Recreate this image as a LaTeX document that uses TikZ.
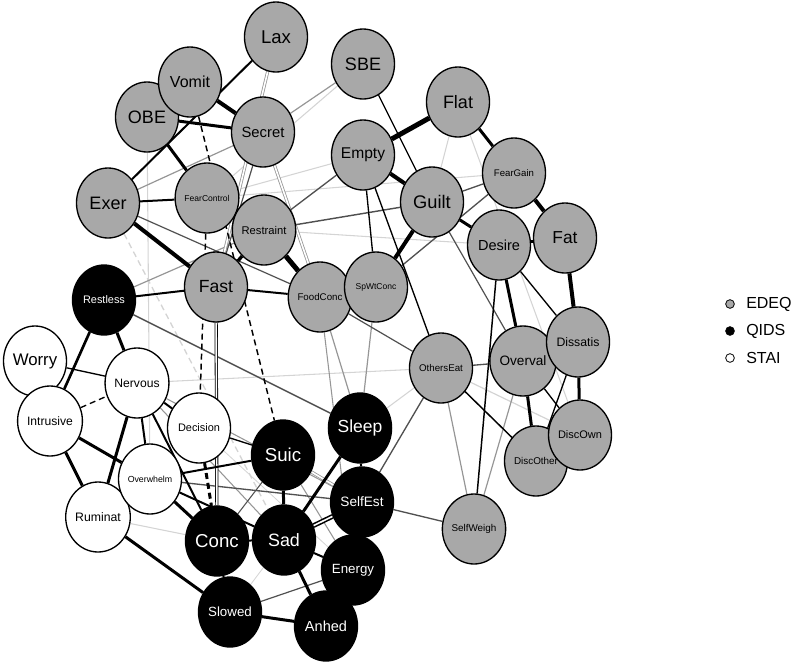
\documentclass[tikz,border=0pt]{standalone}
\usepackage{fontspec}
\setmainfont{Liberation Sans}
\usetikzlibrary{shapes.geometric}
\definecolor{edeqfill}{RGB}{168,168,168}
\definecolor{dkline}{RGB}{80,80,80}
\definecolor{mdline}{RGB}{150,150,150}
\definecolor{ltline}{RGB}{212,212,212}
\pgfdeclarelayer{edges}
\pgfsetlayers{edges,main}
\tikzset{
  nd/.style={ellipse, draw=black, line width=1pt, minimum width=47.25pt, minimum height=52.5pt, inner sep=0pt},
  edeq/.style={nd, fill=edeqfill, font=\fontsize{#1}{#1}\selectfont},
  qids/.style={nd, fill=black, text=white, font=\fontsize{#1}{#1}\selectfont},
  stai/.style={nd, fill=white, font=\fontsize{#1}{#1}\selectfont},
  bk/.style={draw=black, line width=#1pt},
  dk/.style={draw=dkline, line width=#1pt},
  md/.style={draw=mdline, line width=#1pt},
  lt/.style={draw=ltline, line width=#1pt},
  neg/.style={dash pattern=on 4.5pt off 3pt},
  dbl/.style={draw=#1, double=white, double distance=1.2pt, line width=0.6pt},
  legdot/.style={circle, draw=black, line width=0.6pt, minimum size=6.5pt, inner sep=0pt},
  legtxt/.style={anchor=west, inner sep=0pt, font=\fontsize{12}{12}\selectfont}
}

\begin{document}
\begin{tikzpicture}[x=0.75pt, y=-0.75pt]
		%%%%% START %%%%%
		\useasboundingbox (0,0) rectangle (800,664);
		
		% EDEQ items
		\node[edeq=13.9] (Lax) at (276,37) {Lax};
		\node[edeq=13.5] (OBE) at (147,117) {OBE};
		\node[edeq=12] (Vomit) at (190,82) {Vomit};
		\node[edeq=11.1] (Secret) at (263,132) {Secret};
		\node[edeq=13.5] (SBE) at (363,64) {SBE};
		\node[edeq=13.5] (Flat) at (458,102) {Flat};
		\node[edeq=11.7] (Empty) at (363,155) {Empty};
		\node[edeq=7.2] (FearGain) at (514,173) {FearGain};
		\node[edeq=13.7] (Guilt) at (432,202) {Guilt};
		\node[edeq=13.5] (Exer) at (108,203) {Exer};
		\node[edeq=6.4] (FearControl) at (207,198) {FearControl};
		\node[edeq=8.4] (Restraint) at (264,230) {Restraint};
		\node[edeq=10.9] (Desire) at (499,245) {Desire};
		\node[edeq=13] (Fat) at (565,238) {Fat};
		\node[edeq=13.2] (Fast) at (216,287) {Fast};
		\node[edeq=7.3] (FoodConc) at (320,297) {FoodConc};
		\node[edeq=6.4] (SpWtConc) at (376,287) {SpWtConc};
		\node[edeq=7.3] (OthersEat) at (441,368) {OthersEat};
		\node[edeq=10.2] (Overval) at (523,361) {Overval};
		\node[edeq=9.2] (Dissatis) at (578,342) {Dissatis};
		\node[edeq=7.4] (DiscOther) at (536,461) {};
		\node[edeq=8.25] (DiscOwn) at (580,435) {DiscOwn};
		\node[inner sep=0pt, font=\fontsize{7.4}{7.4}\selectfont] (DiscOtherTxt) at (DiscOther) {DiscOther};
		\node[edeq=7.4] (SelfWeigh) at (474,529) {SelfWeigh};
		
		% QIDS items
		\node[qids=8.2] (Restless) at (104,300) {Restless};
		\node[qids=14] (Suic) at (283,455) {Suic};
		\node[qids=13.1] (Sleep) at (360,428) {Sleep};
		\node[qids=10.2] (SelfEst) at (362,502) {SelfEst};
		\node[qids=14] (Conc) at (217,541) {Conc};
		\node[qids=13.4] (Sad) at (284,540) {Sad};
		\node[qids=10] (Energy) at (353,570) {Energy};
		\node[qids=10] (Slowed) at (230,612) {Slowed};
		\node[qids=10.9] (Anhed) at (326,626) {Anhed};
		
		% STAI items
		\node[stai=12.6] (Worry) at (35,361) {Worry};
		\node[stai=9.1] (Nervous) at (137,383) {Nervous};
		\node[stai=9.1] (Intrusive) at (50,421) {Intrusive};
		\node[stai=8.2] (Decision) at (199,428) {Decision};
		\node[stai=9.2] (Ruminat) at (98,517) {Ruminat};
		\node[stai=6.6] (Overwhelm) at (150,479) {Overwhelm};
		
		% legend
		\node[legdot, fill=edeqfill] (legE) at (730,304) {};
		\node[legdot, fill=black] (legQ) at (730,331) {};
		\node[legdot, fill=white] (legS) at (730,358) {};
		\node[legtxt] (legEt) at (746,304) {EDEQ};
		\node[legtxt] (legQt) at (746,331) {QIDS};
		\node[legtxt] (legSt) at (746,358) {STAI};
		
		\begin{pgfonlayer}{edges}
		% light edges
		\draw[lt=0.8] (Flat) -- (Guilt);
		\draw[lt=0.8] (Flat) -- (DiscOwn);
		\draw[lt=0.8] (FearControl) -- (FearGain);
		\draw[lt=0.8] (FearControl) -- (SBE);
		\draw[lt=0.8] (FearControl) -- (Empty);
		\draw[lt=0.8] (Restraint) -- (Desire);
		\draw[lt=0.8] (OBE) -- (Overwhelm);
		\draw[lt=0.8] (Nervous) -- (OthersEat);
		\draw[lt=0.9] (OthersEat) -- (DiscOwn);
		\draw[lt=0.8] (OthersEat) -- (Sleep);
		\draw[lt=0.8] (Ruminat) -- (Conc);
		\draw[lt=0.6] (Decision) -- (Energy);
		\draw[lt=0.6] (Sad) -- (Slowed);
		\draw[lt=1, neg] (Exer) -- (Sad);
		
		% medium grey edges
		\draw[md=0.9] (Secret) -- (SBE);
		\draw[md=0.9] (Exer) -- (Secret);
		\draw[md=0.9] (Restless) -- (Restraint);
		\draw[md=0.9] (FoodConc) -- (Sleep);
		\draw[md=0.8] (FoodConc) -- (Energy);
		\draw[md=0.9] (SpWtConc) -- (Sleep);
		\draw[md=0.9] (Overval) -- (SelfWeigh);
		\draw[md=0.9] (OthersEat) -- (SelfWeigh);
		\draw[md=0.8] (Nervous) -- (Sad);
		\draw[md=0.8] (Nervous) -- (SelfEst);
		\draw[md=0.8] (Suic) -- (Energy);
		\draw[dbl=mdline] (Lax) -- (Fast);
		\draw[dbl=mdline] (Secret) -- (FoodConc);
		\draw[dbl=mdline] (Suic) -- (SelfEst);
		
		% dark grey edges
		\draw[dk=1] (Restraint) -- (Empty);
		\draw[dk=1.1] (Restraint) -- (Guilt);
		\draw[dk=1] (Guilt) -- (FearGain);
		\draw[dk=1] (FearGain) -- (SpWtConc);
		\draw[dk=0.9] (Exer) -- (FoodConc);
		\draw[dk=1.1] (Restless) -- (Sleep);
		\draw[dk=0.9] (Secret) -- (Fast);
		\draw[dk=0.9] (FoodConc) -- (OthersEat);
		\draw[dk=1] (SelfEst) -- (OthersEat);
		\draw[dk=1] (SelfEst) -- (SelfWeigh);
		\draw[dk=1] (Overval) -- (OthersEat);
		\draw[dk=0.9] (Guilt) -- (Overval);
		\draw[dk=1] (Overwhelm) -- (SelfEst);
		\draw[dk=0.9] (Slowed) -- (Energy);
		\draw[dk=0.8] (Suic) -- (Conc);
		
		% black edges
		\draw[bk=3] (Vomit) -- (Secret);
		\draw[bk=2.25] (OBE) -- (Secret);
		\draw[bk=2.25] (OBE) -- (FearControl);
		\draw[bk=1.5] (Lax) -- (Exer);
		\draw[bk=1.5] (Exer) -- (FearControl);
		\draw[bk=3] (Exer) -- (Fast);
		\draw[bk=3.75] (Empty) -- (Flat);
		\draw[bk=3] (Empty) -- (Guilt);
		\draw[bk=1] (SBE) -- (Guilt);
		\draw[bk=2.25] (Flat) -- (FearGain);
		\draw[bk=3] (FearGain) -- (Fat);
		\draw[bk=2.25] (Guilt) -- (Desire);
		\draw[bk=3] (Guilt) -- (SpWtConc);
		\draw[bk=2] (Desire) -- (Fat);
		\draw[bk=1] (Empty) -- (SpWtConc);
		\draw[bk=1] (Empty) -- (OthersEat);
		\draw[bk=1.5] (Restless) -- (Fast);
		\draw[bk=2] (Restless) -- (Intrusive);
		\draw[bk=2.25] (Restless) -- (Nervous);
		\draw[bk=2.5] (Fast) -- (Restraint);
		\draw[bk=1.5] (Fast) -- (FoodConc);
		\draw[bk=3.75] (Restraint) -- (FoodConc);
		\draw[bk=2] (FoodConc) -- (SpWtConc);
		\draw[dbl=black] (Fast) -- (Conc);
		\draw[bk=1.5] (Worry) -- (Intrusive);
		\draw[bk=1] (Worry) -- (Nervous);
		\draw[bk=2.25] (Intrusive) -- (Ruminat);
		\draw[bk=2.25] (Intrusive) -- (Overwhelm);
		\draw[bk=2.25] (Nervous) -- (Ruminat);
		\draw[bk=1.5] (Nervous) -- (Overwhelm);
		\draw[bk=1.5] (Nervous) -- (Decision);
		\draw[bk=1.5] (Nervous) -- (Conc);
		\draw[bk=1] (Decision) -- (Suic);
		\draw[bk=1.5] (Overwhelm) -- (Suic);
		\draw[bk=2.25] (Overwhelm) -- (Conc);
		\draw[bk=1.5] (Overwhelm) -- (Sad);
		\draw[bk=2.25] (Ruminat) -- (Slowed);
		\draw[bk=2.25] (Suic) -- (Sad);
		\draw[bk=1.5] (Sleep) -- (SelfEst);
		\draw[bk=2.25] (Sleep) -- (Sad);
		\draw[dbl=black, line width=1.2pt] (Sad) -- (SelfEst);
		\draw[bk=1.5] (Conc) -- (Sad);
		\draw[bk=1.5] (Sad) -- (Energy);
		\draw[bk=2.25] (Sad) -- (Anhed);
		\draw[bk=2.25] (Slowed) -- (Anhed);
		\draw[bk=1.5] (Conc) -- (Slowed);
		\draw[bk=1.5] (Energy) -- (Anhed);
		\draw[bk=1.5] (SelfEst) -- (Energy);
		\draw[bk=2.25] (Desire) -- (Overval);
		\draw[bk=1] (Desire) -- (Dissatis);
		\draw[bk=3] (Fat) -- (Dissatis);
		\draw[bk=2.25] (Dissatis) -- (DiscOwn);
		\draw[bk=2.25] (Overval) -- (DiscOther);
		\draw[bk=1] (Overval) -- (DiscOwn);
		\draw[bk=1] (Dissatis) -- (DiscOther);
		\draw[bk=1.1] (OthersEat) -- (DiscOther);
		\draw[bk=1.1] (Desire) -- (SelfWeigh);
		
		% negative edges
		\draw[bk=1.1, neg] (Vomit) -- (Suic);
		\draw[bk=1.1, neg] (FearControl) -- (Decision);
		\draw[bk=1, neg] (Intrusive) -- (Nervous);
		\draw[bk=2.25, neg] (Decision) -- (Conc);
		\end{pgfonlayer}
		
		%%%%% END %%%%%
\end{tikzpicture}
\end{document}
